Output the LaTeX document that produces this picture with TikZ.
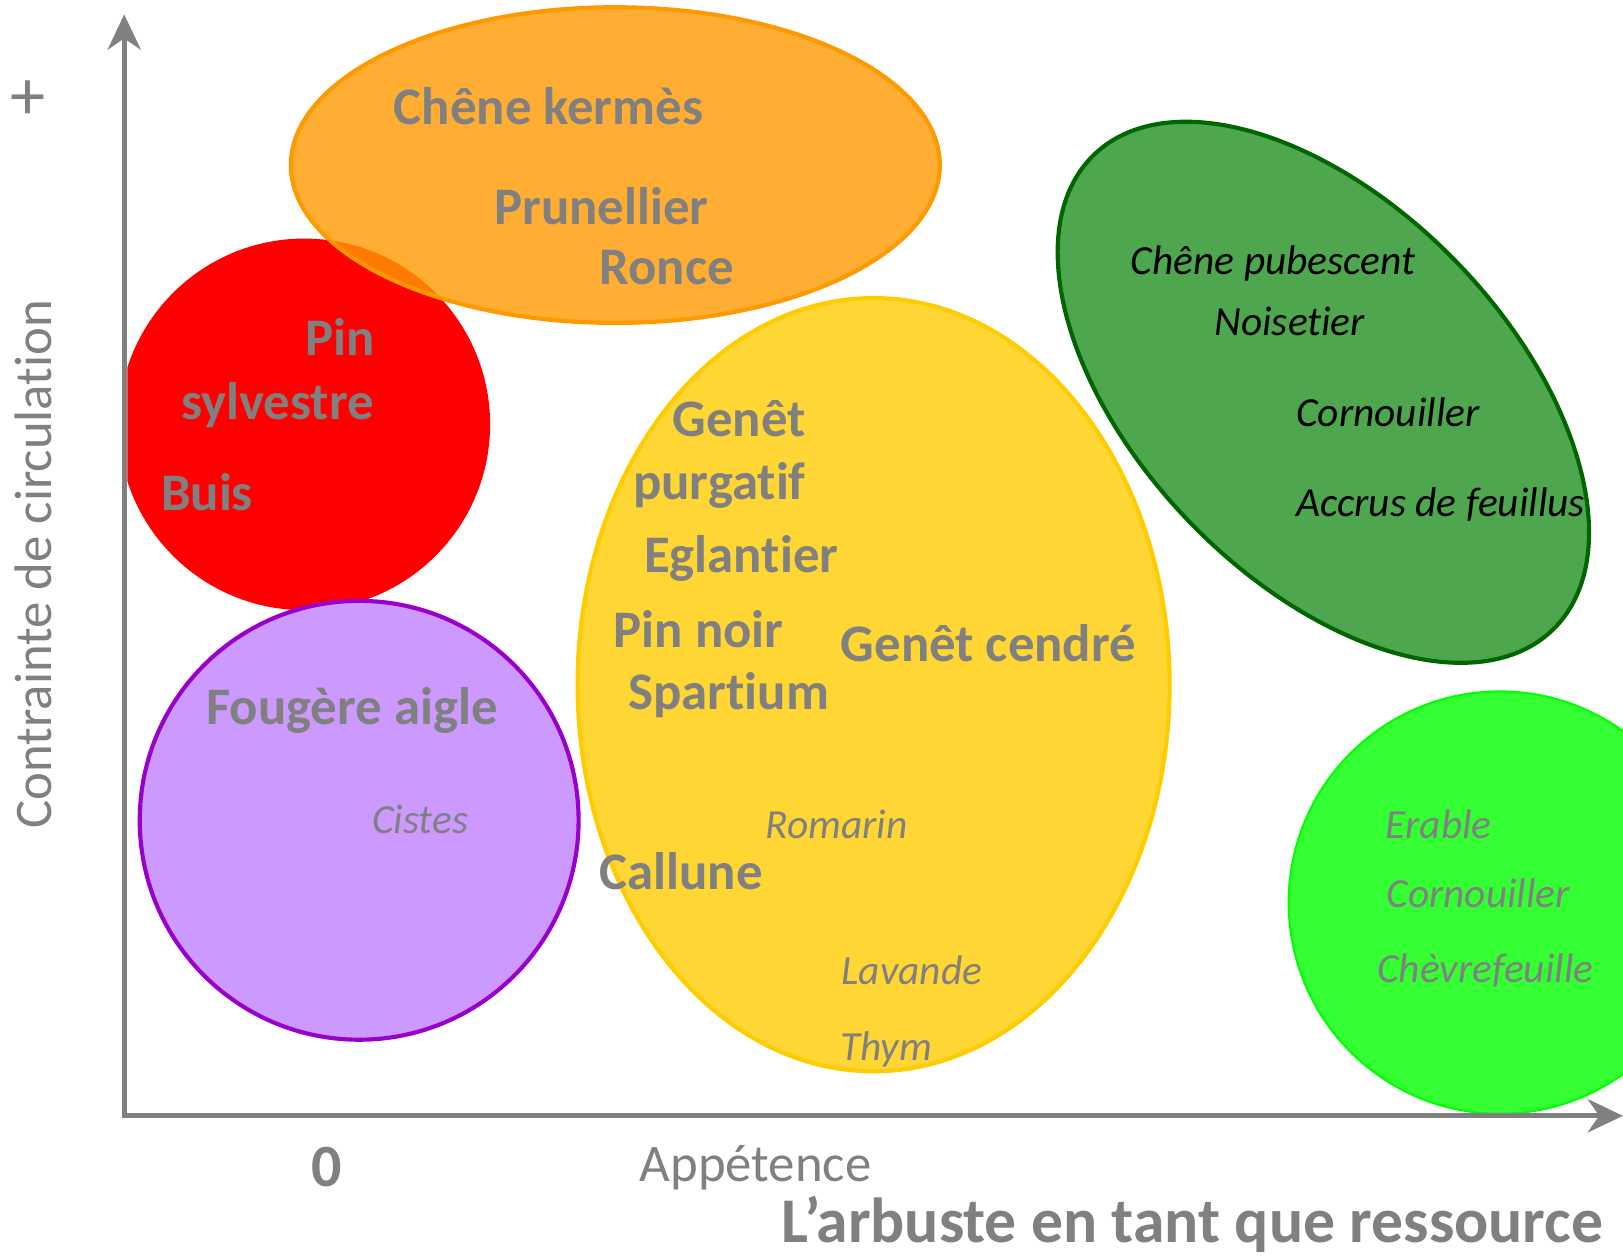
\documentclass[tikz,border=0pt]{standalone}
\usepackage{fontspec}
\setmainfont{Carlito}[Ligatures=NoCommon]
\usetikzlibrary{arrows.meta}
\definecolor{txtgray}{RGB}{128,128,128}
\definecolor{axisgray}{RGB}{128,128,128}
\definecolor{orangefill}{RGB}{255,153,0}
\definecolor{orangeline}{RGB}{255,153,0}
\definecolor{yellowfill}{RGB}{255,204,0}
\definecolor{yellowline}{RGB}{255,204,0}
\definecolor{purplefill}{RGB}{204,153,255}
\definecolor{purpleline}{RGB}{153,0,204}
\definecolor{dkgreenfill}{RGB}{78,166,78}
\definecolor{dkgreenline}{RGB}{0,102,0}
\definecolor{ltgreenfill}{RGB}{51,255,51}
\definecolor{ltgreenline}{RGB}{0,255,0}
\tikzset{
  axisline/.style={draw=axisgray, line width=5pt, -{Stealth[length=34pt,width=32pt,inset=11pt]}},
  boldlbl/.style={anchor=base, inner sep=0pt, text=txtgray, font=\fontsize{51}{60}\selectfont\bfseries},
  itlbl/.style={anchor=base, inner sep=0pt, text=txtgray, font=\fontsize{40}{48}\selectfont\itshape},
  itblack/.style={anchor=base, inner sep=0pt, text=black, font=\fontsize{40}{48}\selectfont\itshape},
  axlbl/.style={inner sep=0pt, text=txtgray, font=\fontsize{51}{60}\selectfont},
}
\begin{document}
\begin{tikzpicture}[x=1pt,y=1pt]
\useasboundingbox (0,0) rectangle (1568,1214);
\fill[white] (0,0) rectangle (1568,1214);
% red circle, clipped on the left
\begin{scope}
  \clip (123,0) rectangle (1568,1214);
  \fill[red] (294,804) circle[radius=179.5];
\end{scope}
% orange ellipse
\draw[line width=4pt, draw=orangeline, fill=orangefill, fill opacity=0.8] (594.5,1054.5) ellipse[x radius=313.5, y radius=152.5];
% purple circle
\draw[line width=4pt, draw=purpleline, fill=purplefill] (347,421.5) circle[radius=212];
% yellow ellipse
\draw[line width=4pt, draw=yellowline, fill=yellowfill, fill opacity=0.8] (844,552.5) ellipse[x radius=286, y radius=373.5];
% dark green ellipse
\draw[line width=4pt, draw=dkgreenline, fill=dkgreenfill, rotate around={-46:(1278.5,835)}] (1278.5,835) ellipse[x radius=319, y radius=180];
% light green circle
\draw[line width=2pt, draw=ltgreenline, fill=ltgreenfill] (1449,342) circle[radius=204];
% axes
\coordinate (O) at (120,136);
\coordinate (Otop) at (120,1200);
\coordinate (Ostart) at (117.5,136);
\coordinate (Oright) at (1568,136);
\draw[axisline] (O) -- (Otop);
\draw[axisline] (Ostart) -- (Oright);
% axis labels
\node[axlbl, font=\fontsize{68}{78}\selectfont] (plus) at (27,1117) {+};
\node[axlbl, rotate=90] (ylab) at (32,669) {Contrainte de circulation};
\node[axlbl, font=\fontsize{58}{68}\selectfont\bfseries] (zero) at (316,87) {0};
\node[axlbl, anchor=base] (appet) at (730,73) {Appétence};
\node[axlbl, anchor=base, font=\fontsize{61.5}{70}\selectfont\bfseries] (xlab) at (1152,14) {L’arbuste en tant que ressource};
% orange ellipse labels
\node[boldlbl] (ck) at (530,1094) {Chêne kermès};
\node[boldlbl] (pru) at (581,997) {Prunellier};
\node[boldlbl] (ron) at (644,939) {Ronce};
% red circle labels
\node[boldlbl] (pin) at (329,871) {Pin};
\node[boldlbl] (syl) at (268,809) {sylvestre};
\node[boldlbl] (buis) at (200,721) {Buis};
% yellow ellipse labels
\node[boldlbl] (gen) at (714,792) {Genêt};
\node[boldlbl] (pur) at (695,731) {purgatif};
\node[boldlbl] (egl) at (716,661) {Eglantier};
\node[boldlbl] (pn) at (675,588) {Pin noir};
\node[boldlbl] (gc) at (955,575) {Genêt cendré};
\node[boldlbl] (spa) at (704,529) {Spartium};
\node[boldlbl] (cal) at (658,355) {Callune};
\node[itlbl] (rom) at (808,404) {Romarin};
\node[itlbl] (lav) at (881,263) {Lavande};
\node[itlbl] (thy) at (856,189) {Thym};
% purple circle labels
\node[boldlbl] (fou) at (340,514) {Fougère aigle};
\node[itlbl] (cis) at (406,409) {Cistes};
% dark green labels
\node[itblack] (cp) at (1230,949) {Chêne pubescent};
\node[itblack] (noi) at (1246,890) {Noisetier};
\node[itblack] (cor1) at (1341,802) {Cornouiller};
\node[itblack] (acc) at (1392,715) {Accrus de feuillus};
% light green labels
\node[itlbl] (era) at (1390,404) {Erable};
\node[itlbl] (cor2) at (1428,337) {Cornouiller};
\node[itlbl] (che) at (1435,265) {Chèvrefeuille};
\end{tikzpicture}
\end{document}
